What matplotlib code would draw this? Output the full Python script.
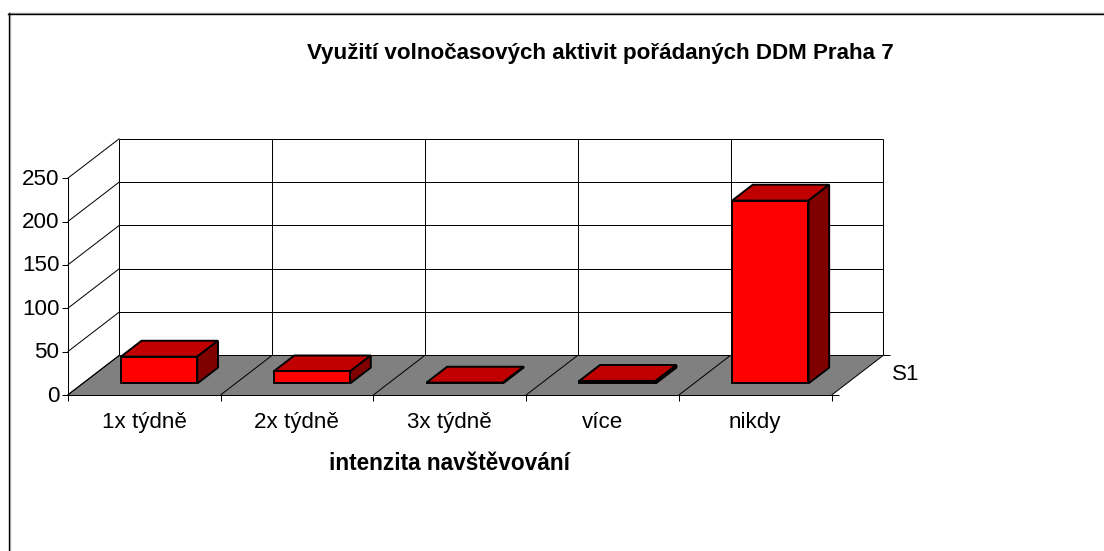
import matplotlib
matplotlib.use("Agg")
import matplotlib.pyplot as plt
from matplotlib.lines import Line2D
from matplotlib.patches import Polygon
from matplotlib.transforms import ScaledTranslation

categories = ["1x týdně", "2x týdně", "3x týdně", "více", "nikdy"]
values = [31, 14, 1, 3, 211]
y_ticks = [0, 50, 100, 150, 200, 250]
title = "Využití volnočasových aktivit pořádaných DDM Praha 7"
x_title = "intenzita navštěvování"
series_name = "S1"

W, H = 1104, 551
plt.rcParams["font.family"] = ["Liberation Sans", "DejaVu Sans"]
fig = plt.figure(figsize=(W / 100, H / 100), dpi=100, facecolor="white")
ax = fig.add_axes([67.7 / W, (H - 395) / H, 764 / W, 216.7 / H])
ax.set_xlim(0, len(categories))
ax.set_ylim(min(y_ticks), max(y_ticks))
ax.patch.set_visible(False)

# Depth vector of the pseudo-3D box, in data units
DX = 51.7 / 152.8
DY = 45.8
LW = 0.72


def proj(x, v, d=0.0):
    return x + d * DX, v + d * DY


def line(p, q, **kw):
    ax.plot([p[0], q[0]], [p[1], q[1]], color=kw.pop("color", "black"),
            lw=kw.pop("lw", LW), clip_on=False, solid_capstyle="butt", **kw)


def poly(points, fc, z, lw=1.4):
    ax.add_patch(Polygon(points, closed=True, facecolor=fc, edgecolor="black",
                         lw=lw, clip_on=False, zorder=z, joinstyle="miter"))


n = len(categories)
vmin, vmax = min(y_ticks), max(y_ticks)

# floor
ax.add_patch(Polygon([proj(0, 0), proj(n, 0), proj(n, 0, 1), proj(0, 0, 1)],
                     closed=True, facecolor="#808080", edgecolor="none",
                     clip_on=False, zorder=1))

# walls: gridlines on back wall and left wall
for t in y_ticks:
    line(proj(0, t, 1), proj(n, t, 1), zorder=2)
    line(proj(0, t), proj(0, t, 1), zorder=2)
for i in range(n + 1):
    line(proj(i, vmin, 1), proj(i, vmax, 1), zorder=2)
    line(proj(i, vmin), proj(i, vmin, 1), zorder=2)

# depth axis tick marks on the right side
line(proj(n, 0), proj(n + 0.045, 0), zorder=2)
line(proj(n, 0, 1), proj(n + 0.045, 0, 1), zorder=2)

# bars
d0, d1 = 0.29, 0.69
for i, v in enumerate(values):
    x0, x1 = i + 0.25, i + 0.75
    poly([proj(x0, v, d0), proj(x1, v, d0), proj(x1, v, d1), proj(x0, v, d1)], "#C00000", 4)
    poly([proj(x1, 0, d0), proj(x1, 0, d1), proj(x1, v, d1), proj(x1, v, d0)], "#800000", 4)
    poly([proj(x0, 0, d0), proj(x1, 0, d0), proj(x1, v, d0), proj(x0, v, d0)], "#FF0000", 5)

# axes
for s in ("top", "right"):
    ax.spines[s].set_visible(False)
for s in ("left", "bottom"):
    ax.spines[s].set_linewidth(LW)
    ax.spines[s].set_zorder(3)
ax.set_yticks(y_ticks)
ax.set_yticklabels([str(t) for t in y_ticks], fontsize=16.1)
ax.tick_params(axis="y", length=4, width=LW, pad=2)
shift = ScaledTranslation(0, 1.5 / 100, fig.dpi_scale_trans)
for lab in ax.get_yticklabels():
    lab.set_transform(lab.get_transform() + shift)
ax.set_xticks(range(n + 1))
ax.set_xticklabels([""] * (n + 1))
ax.tick_params(axis="x", which="major", length=4, width=LW)
ax.set_xticks([i + 0.5 for i in range(n)], minor=True)
ax.set_xticklabels(categories, minor=True, fontsize=16.1)
ax.tick_params(axis="x", which="minor", length=0, pad=12)

# texts
fig.text(600.5 / W, 1 - 53.5 / H, title, ha="center", va="center", fontsize=16.1, fontweight="bold")
fig.text(449.5 / W, 1 - 463 / H, x_title, ha="center", va="center", fontsize=16.3, fontweight="bold")
fig.text(906 / W, 1 - 374 / H, series_name, ha="center", va="center", fontsize=16.1)

# chart-area frame (top and left only), with its pale shadow
px = lambda x, y: (x / W, 1 - y / H)
for (a, b, c, w) in [((9.7, 12.5), (9.7, H), "#c8c8c8", 1.0), ((9, 12.5), (W, 12.5), "#a0a0a0", 1.0),
                     ((8.5, 13), (8.5, H), "black", 1.0), ((8, 13.5), (W, 13.5), "black", 1.0)]:
    fig.add_artist(Line2D(*zip(px(*a), px(*b)), color=c, lw=w, transform=fig.transFigure))

fig.savefig("out.png", dpi=100, facecolor="white")
